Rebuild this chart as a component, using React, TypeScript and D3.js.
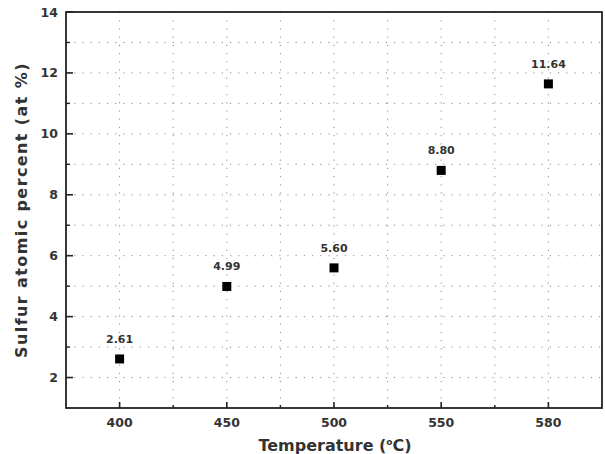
import React from 'react';
import * as d3 from 'd3';

const temperatures = ['400', '450', '500', '550', '580'];
const sulfurPercent = [2.61, 4.99, 5.6, 8.8, 11.64];
const sulfurLabels = ['2.61', '4.99', '5.60', '8.80', '11.64'];
const yTicks = [2, 4, 6, 8, 10, 12, 14];
const yMinorTicks = [3, 5, 7, 9, 11, 13];

const W = 605;
const H = 454;
const margin = { top: 12, right: 3, bottom: 46, left: 66 };
const font = '"DejaVu Sans", Verdana, sans-serif';

const App = () => {
  const x = d3.scalePoint<string>()
    .domain(temperatures)
    .range([margin.left, W - margin.right])
    .padding(0.5);

  const y = d3.scaleLinear()
    .domain([1, 14])
    .range([H - margin.bottom, margin.top]);

  const step = x.step();
  const xMinor = temperatures.slice(0, -1).map(t => (x(t) as number) + step / 2);
  const xMajor = temperatures.map(t => x(t) as number);
  const bottom = H - margin.bottom;
  const top = margin.top;
  const left = margin.left;
  const right = W - margin.right;

  const gridStyle = { stroke: '#8a8a8a', strokeWidth: 1, strokeDasharray: '1.2,7' };

  return (
    <svg width={W} height={H} style={{ position: 'absolute', left: 0, top: 0, background: '#fff' }}>
      {/* grid */}
      {[...yTicks, ...yMinorTicks].filter(v => v < 14).map(v => (
        <line key={'gy' + v} x1={left} x2={right} y1={y(v)} y2={y(v)} {...gridStyle} />
      ))}
      {[...xMajor, ...xMinor].map((px, i) => (
        <line key={'gx' + i} x1={px} x2={px} y1={top} y2={bottom} {...gridStyle} />
      ))}

      {/* frame */}
      <rect x={left} y={top} width={right - left} height={bottom - top} fill="none" stroke="#222" strokeWidth={1.8} />

      {/* x ticks */}
      {xMajor.map((px, i) => (
        <g key={'xt' + i}>
          <line x1={px} x2={px} y1={bottom} y2={bottom - 6} stroke="#222" strokeWidth={1.6} />
          <text x={px} y={bottom + 19} textAnchor="middle" fontFamily={font} fontWeight="bold" fontSize={12.5} fill="#333">
            {temperatures[i]}
          </text>
        </g>
      ))}
      {xMinor.map((px, i) => (
        <line key={'xm' + i} x1={px} x2={px} y1={bottom} y2={bottom - 3} stroke="#222" strokeWidth={1.4} />
      ))}

      {/* y ticks */}
      {yTicks.map(v => (
        <g key={'yt' + v}>
          <line x1={left} x2={left + 7} y1={y(v)} y2={y(v)} stroke="#222" strokeWidth={1.6} />
          <text x={left - 8} y={y(v) + 4.5} textAnchor="end" fontFamily={font} fontWeight="bold" fontSize={12.5} fill="#333">
            {v}
          </text>
        </g>
      ))}
      {yMinorTicks.map(v => (
        <line key={'ym' + v} x1={left} x2={left + 4} y1={y(v)} y2={y(v)} stroke="#222" strokeWidth={1.4} />
      ))}

      {/* points */}
      {sulfurPercent.map((v, i) => {
        const px = x(temperatures[i]) as number;
        const py = y(v);
        return (
          <g key={'p' + i}>
            <rect x={px - 4.5} y={py - 4.5} width={9} height={9} fill="#000" />
            <text x={px} y={py - 16} textAnchor="middle" fontFamily={font} fontWeight="bold" fontSize={11} fill="#333">
              {sulfurLabels[i]}
            </text>
          </g>
        );
      })}

      {/* axis titles */}
      <text x={335} y={451} textAnchor="middle" fontFamily={font} fontWeight="bold" fontSize={16} fill="#333">
        Temperature (<tspan dy={-6} fontSize={9}>o</tspan><tspan dy={6}>C)</tspan>
      </text>
      <text transform={`translate(27,210) rotate(-90)`} textAnchor="middle" fontFamily={font} fontWeight="bold" fontSize={16} letterSpacing={1.4} fill="#333">
        Sulfur atomic percent (at %)
      </text>
    </svg>
  );
};

export default App;
